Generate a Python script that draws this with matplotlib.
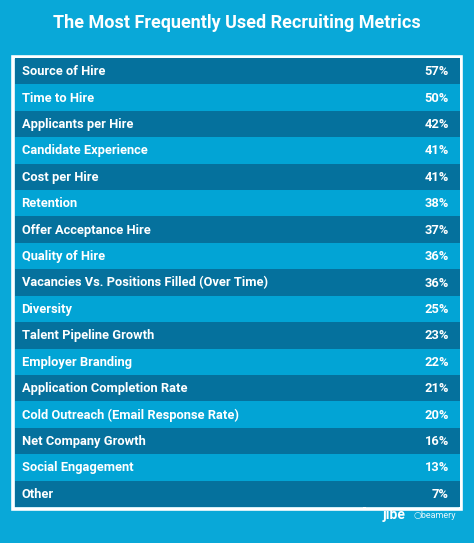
import matplotlib
matplotlib.use("Agg")
import matplotlib.pyplot as plt
from matplotlib.patches import Rectangle

categories = ["Source of Hire", "Time to Hire", "Applicants per Hire", "Candidate Experience",
              "Cost per Hire", "Retention", "Offer Acceptance Hire", "Quality of Hire",
              "Vacancies Vs. Positions Filled (Over Time)", "Diversity", "Talent Pipeline Growth",
              "Employer Branding", "Application Completion Rate", "Cold Outreach (Email Response Rate)",
              "Net Company Growth", "Social Engagement", "Other"]
values = [57, 50, 42, 41, 41, 38, 37, 36, 36, 25, 23, 22, 21, 20, 16, 13, 7]
title = "The Most Frequently Used Recruiting Metrics"

BG = "#09A8D8"
DARK = "#05719D"
LIGHT = "#02A4D5"
W, H = 474, 543

plt.rcParams['font.family'] = ['Roboto', 'DejaVu Sans']
fig = plt.figure(figsize=(W/100, H/100), dpi=100, facecolor=BG)

# background axes in pixel coords
bg = fig.add_axes([0, 0, 1, 1])
bg.set_xlim(0, W); bg.set_ylim(H, 0); bg.axis('off')
bg.text(W/2, 23, title, color='white', fontsize=13.0, fontweight='bold', ha='center', va='center')
bg.text(394, 515, "jibe", color='white', fontsize=10, fontweight='bold', ha='center', va='center')
bg.text(435, 515, "\u25CBbeamery", color='white', fontsize=6.5, ha='center', va='center', alpha=0.9)

# table axes
x0, x1, y0, y1 = 15, 460, 58, 507
ax = fig.add_axes([x0/W, 1 - y1/H, (x1-x0)/W, (y1-y0)/H])
n = len(categories)
ax.set_xlim(0, 1); ax.set_ylim(n - 0.5, -0.5); ax.axis('off')
colors = [DARK if i % 2 == 0 else LIGHT for i in range(n)]
ax.barh(range(n), [1]*n, height=1.0, left=0, color=colors, edgecolor='none')
for i, (c, v) in enumerate(zip(categories, values)):
    ax.text(6.5/(x1-x0), i + 0.02, c, color='white', fontsize=9.3, fontweight='bold', va='center', ha='left')
    ax.text((449-x0)/(x1-x0), i + 0.02, f"{v}%", color='white', fontsize=9.3, fontweight='bold', va='center', ha='right')

# white border and divider
bg.add_patch(Rectangle((13.5, 56.5), 448, 452, fill=False, edgecolor='white', linewidth=2.6))
bg.plot([364, 364], [57, 508], color='white', linewidth=2.2)

fig.savefig("out.png", dpi=100, facecolor=BG)
